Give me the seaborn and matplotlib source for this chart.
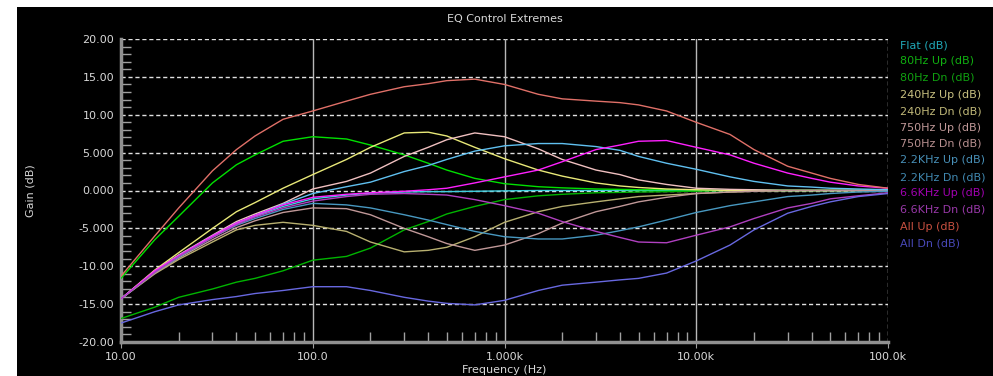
import numpy as np
import pandas as pd
import matplotlib
matplotlib.use("Agg")
import matplotlib.pyplot as plt
import matplotlib.ticker as mticker
from matplotlib.patches import Rectangle
import seaborn as sns

freqs = [10, 15, 20, 30, 40, 50, 70, 100, 150, 200, 300, 400, 500, 700,
         1000, 1500, 2000, 3000, 4000, 5000, 7000, 10000, 15000, 20000, 30000,
         40000, 50000, 70000, 100000]

flat = [-14.3, -10.7, -8.6, -6.0, -4.4, -3.4, -2.1, -1.1, -0.6, -0.35, -0.2, -0.15, -0.15, -0.1,
        -0.05, 0, 0, 0, 0, 0, 0, 0, 0, 0, 0, 0, 0, 0, 0]
hz80_up = [-11.6, -6.5, -3.4, 1.0, 3.4, 4.7, 6.5, 7.1, 6.8, 6.0, 4.7, 3.6, 2.7, 1.6,
           0.9, 0.5, 0.35, 0.2, 0.15, 0.1, 0.1, 0.05, 0, 0, 0, 0, 0, 0, 0]
hz80_dn = [-16.9, -15.4, -14.1, -13.0, -12.1, -11.6, -10.6, -9.2, -8.7, -7.6, -5.2, -4.1, -3.1, -2.1,
           -1.2, -0.7, -0.5, -0.3, -0.25, -0.2, -0.15, -0.1, 0, 0, 0, 0, 0, 0, 0]
hz240_up = [-14.3, -10.5, -8.2, -5.0, -2.8, -1.6, 0.3, 2.1, 4.1, 5.7, 7.6, 7.7, 7.2, 5.7,
            4.2, 2.7, 1.9, 1.0, 0.6, 0.4, 0.2, 0.1, 0, 0, 0, 0, 0, 0, 0]
hz240_dn = [-14.3, -11.0, -9.1, -6.8, -5.2, -4.6, -4.2, -4.6, -5.4, -6.8, -8.1, -7.9, -7.5, -6.1,
            -4.2, -2.8, -2.1, -1.5, -1.1, -0.8, -0.6, -0.4, -0.2, -0.1, 0, 0, 0, 0, 0]
hz750_up = [-14.3, -10.6, -8.5, -5.9, -4.1, -3.1, -1.7, 0.2, 1.2, 2.3, 4.5, 5.7, 6.7, 7.6,
            7.1, 5.5, 4.1, 2.7, 2.1, 1.4, 0.8, 0.3, 0.15, 0.1, 0, 0, 0, 0, 0]
hz750_dn = [-14.3, -10.9, -8.9, -6.5, -4.9, -4.0, -2.9, -2.3, -2.4, -3.2, -5.0, -6.1, -7.0, -7.9,
            -7.2, -5.7, -4.3, -2.8, -2.1, -1.5, -0.9, -0.4, -0.2, -0.1, 0, 0, 0, 0, 0]
k22_up = [-14.3, -10.7, -8.6, -6.0, -4.3, -3.3, -1.8, -0.4, 0.5, 1.1, 2.5, 3.3, 4.1, 5.2,
          5.9, 6.2, 6.2, 5.8, 5.3, 4.5, 3.6, 2.8, 1.8, 1.2, 0.6, 0.45, 0.3, 0.2, 0.1]
k22_dn = [-14.3, -10.8, -8.8, -6.2, -4.6, -3.7, -2.5, -1.7, -1.9, -2.3, -3.2, -3.9, -4.5, -5.4,
          -6.1, -6.4, -6.4, -5.9, -5.3, -4.8, -3.9, -2.9, -2.0, -1.5, -0.8, -0.6, -0.4, -0.2, -0.1]
k66_up = [-14.3, -10.6, -8.6, -6.0, -4.3, -3.3, -1.9, -0.9, -0.5, -0.3, -0.1, 0.1, 0.3, 1.0,
          1.8, 2.7, 3.8, 5.4, 6.0, 6.5, 6.6, 5.7, 4.7, 3.6, 2.3, 1.6, 1.1, 0.6, 0.3]
k66_dn = [-14.3, -10.8, -8.7, -6.2, -4.5, -3.5, -2.3, -1.4, -0.8, -0.5, -0.4, -0.5, -0.6, -1.2,
          -2.0, -3.0, -4.1, -5.4, -6.2, -6.8, -6.9, -5.9, -4.8, -3.7, -2.3, -1.7, -1.1, -0.7, -0.3]
all_up = [-11.3, -6.0, -2.3, 2.6, 5.4, 7.2, 9.4, 10.5, 11.8, 12.7, 13.7, 14.1, 14.5, 14.7,
          14.0, 12.7, 12.1, 11.8, 11.6, 11.3, 10.5, 9.0, 7.4, 5.4, 3.2, 2.3, 1.6, 0.8, 0.3]
all_dn = [-17.5, -16.0, -15.1, -14.4, -14.0, -13.6, -13.2, -12.7, -12.7, -13.2, -14.1, -14.6, -14.9, -15.1,
          -14.5, -13.2, -12.5, -12.1, -11.8, -11.6, -10.9, -9.3, -7.2, -5.2, -3.0, -2.1, -1.5, -0.8, -0.4]

names = ["Flat (dB)", "80Hz Up (dB)", "80Hz Dn (dB)", "240Hz Up (dB)", "240Hz Dn (dB)",
         "750Hz Up (dB)", "750Hz Dn (dB)", "2.2KHz Up (dB)", "2.2KHz Dn (dB)",
         "6.6KHz Up (dB)", "6.6KHz Dn (dB)", "All Up (dB)", "All Dn (dB)"]
series = [flat, hz80_up, hz80_dn, hz240_up, hz240_dn, hz750_up, hz750_dn,
          k22_up, k22_dn, k66_up, k66_dn, all_up, all_dn]

line_colors = ["#40d0e0", "#00e000", "#00b400", "#e8e878", "#b8b070", "#f0c0c0", "#c09898",
               "#60c0f0", "#4898c0", "#ff20ff", "#b040c0", "#e07068", "#6868e0"]
text_colors = ["#20a8b8", "#10b010", "#10a010", "#c8c080", "#c0b878", "#c09898", "#b89090",
               "#4890b8", "#4088b0", "#a000b0", "#9838a8", "#c85040", "#4848b8"]

df = pd.concat([pd.DataFrame({"freq": freqs, "gain": s, "curve": n})
                for n, s in zip(names, series)], ignore_index=True)

fig = plt.figure(figsize=(9.93, 3.76), dpi=100)
fig.patch.set_facecolor("white")
fig.add_artist(Rectangle((17 / 993, 0), 1, 1 - 7 / 376, transform=fig.transFigure,
                         facecolor="black", edgecolor="none", zorder=-10))
ax = fig.add_axes([121 / 993, 1 - 342 / 376, (888 - 121) / 993, (342 - 39) / 376])
ax.set_facecolor("black")

sns.lineplot(data=df, x="freq", y="gain", hue="curve", hue_order=names,
             palette=dict(zip(names, line_colors)), linewidth=1.0, legend=False,
             ax=ax, zorder=3)

ax.set_xscale("log")
ax.set_xlim(10, 100000)
ax.set_ylim(-20, 20)


def yfmt(v, pos):
    if abs(v) < 1e-9:
        return "0.000"
    d = max(0, 3 - int(np.floor(np.log10(abs(v)))))
    return f"{v:.{d}f}"


def xfmt(v, pos):
    if v >= 1000:
        v = v / 1000
        suf = "k"
    else:
        suf = ""
    d = max(0, 3 - int(np.floor(np.log10(abs(v)) + 1e-9)))
    return f"{v:.{d}f}{suf}"


ax.yaxis.set_major_locator(mticker.MultipleLocator(5))
ax.yaxis.set_minor_locator(mticker.MultipleLocator(1))
ax.yaxis.set_major_formatter(mticker.FuncFormatter(yfmt))
ax.xaxis.set_major_locator(mticker.LogLocator(base=10))
ax.xaxis.set_minor_locator(mticker.LogLocator(base=10, subs=np.arange(2, 10)))
ax.xaxis.set_major_formatter(mticker.FuncFormatter(xfmt))
ax.xaxis.set_minor_formatter(mticker.NullFormatter())

ax.tick_params(axis="both", which="major", labelsize=8, labelcolor="#d8d8d8", colors="#a0a0a0")
ax.tick_params(axis="y", which="major", length=0, pad=5)
ax.tick_params(axis="x", which="major", length=4, direction="out", pad=3)
ax.tick_params(axis="both", which="minor", direction="in", length=7, color="#a0a0a0", width=1)

# grid
for yv in [-15, -10, -5, 0, 5, 10, 15, 20]:
    ax.axhline(yv, color="#e0e0e0", linestyle=(0, (3, 2)), linewidth=1, zorder=1)
for xv in [100, 1000, 10000]:
    ax.axvline(xv, color="#b8b8b8", linewidth=1, zorder=1)
ax.axvline(100000, color="#e0e0e0", linestyle=(0, (3, 2)), linewidth=1, zorder=1)

for side in ["top", "right"]:
    ax.spines[side].set_visible(False)
for side in ["left", "bottom"]:
    ax.spines[side].set_color("#909090")
    ax.spines[side].set_linewidth(2.5)

ax.set_xlabel("Frequency (Hz)", fontsize=8, color="#d8d8d8")
ax.set_ylabel("Gain (dB)", fontsize=8, color="#d8d8d8")
ax.xaxis.set_label_coords(0.5, -0.075)
ax.yaxis.set_label_coords(-0.112, 0.5)
ax.set_title("EQ Control Extremes", fontsize=8, color="#d8d8d8", pad=12)

# legend as coloured text
for i, (n, c) in enumerate(zip(names, text_colors)):
    fig.text(900 / 993, 1 - (45 + i * 16.5) / 376, n, color=c, fontsize=8,
             va="center", ha="left")

fig.savefig("out.png", dpi=100, facecolor=fig.get_facecolor())
